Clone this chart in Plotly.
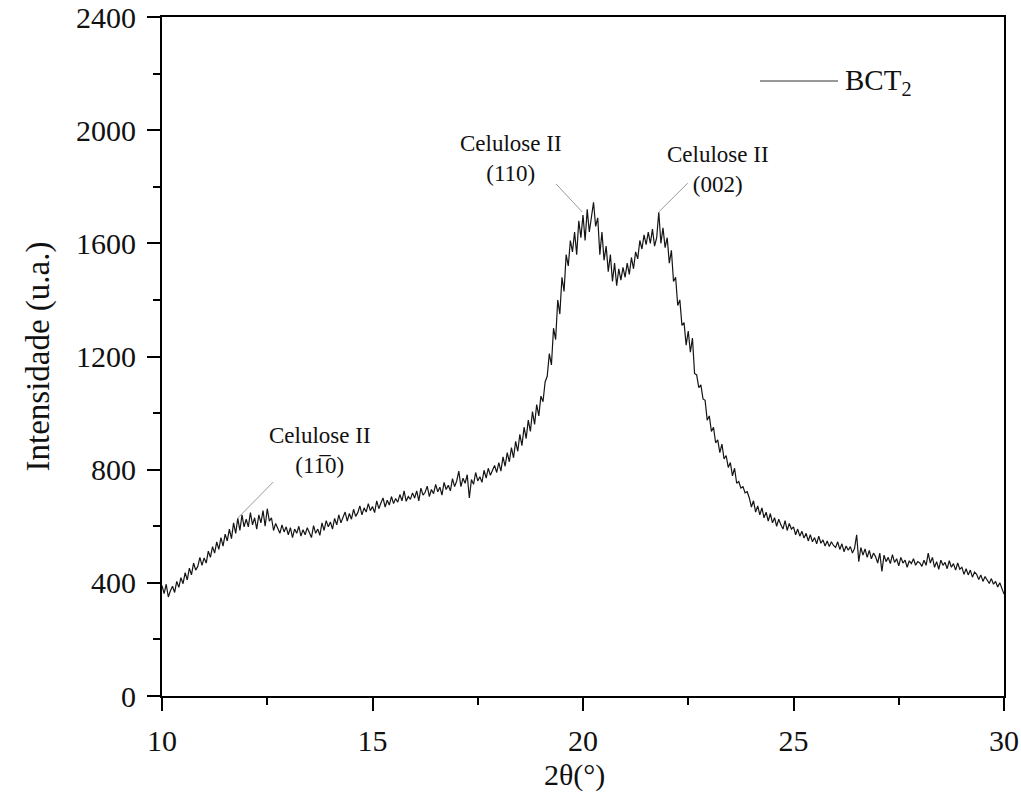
import numpy as np
import plotly.graph_objects as go

# 2theta scan grid (10 to 30 deg, step 0.05)
theta_start = 10.0
theta_end = 30.0
n_points = 401
two_theta = np.linspace(theta_start, theta_end, n_points)

# Intensity values (u.a.), one list per degree
i_10 = [390, 362, 395, 350, 372, 388, 366, 405, 384, 418, 397, 436, 410, 452, 428, 470, 445, 458, 490, 462]
i_11 = [488, 470, 512, 490, 528, 505, 545, 518, 560, 530, 572, 548, 590, 556, 612, 575, 628, 585, 640, 598]
i_12 = [625, 598, 648, 605, 630, 590, 640, 612, 655, 600, 662, 618, 630, 585, 610, 592, 575, 605, 580, 598]
i_13 = [570, 595, 560, 590, 575, 600, 565, 588, 570, 595, 578, 560, 602, 575, 590, 568, 612, 585, 620, 598]
i_14 = [615, 590, 628, 605, 640, 612, 632, 650, 618, 645, 625, 660, 635, 648, 672, 640, 665, 650, 680, 655]
i_15 = [670, 648, 690, 662, 682, 700, 668, 692, 675, 705, 680, 698, 685, 712, 690, 725, 688, 705, 695, 718]
i_16 = [700, 725, 690, 735, 710, 720, 742, 705, 730, 715, 748, 722, 738, 710, 755, 730, 745, 725, 768, 740]
i_17 = [760, 795, 740, 770, 752, 782, 700, 765, 748, 790, 760, 775, 755, 798, 770, 805, 780, 795, 815, 790]
i_18 = [825, 795, 845, 812, 860, 828, 878, 842, 900, 865, 925, 885, 950, 910, 975, 935, 1005, 960, 1030, 990]
i_19 = [1060, 1040, 1110, 1130, 1210, 1170, 1300, 1260, 1400, 1350, 1480, 1430, 1560, 1520, 1610, 1570, 1640, 1560, 1680, 1620]
i_20 = [1700, 1610, 1720, 1640, 1700, 1745, 1660, 1690, 1560, 1640, 1540, 1590, 1500, 1560, 1465, 1530, 1450, 1510, 1470, 1515]
i_21 = [1480, 1530, 1490, 1550, 1510, 1570, 1545, 1610, 1580, 1630, 1595, 1640, 1600, 1650, 1590, 1620, 1710, 1600, 1655, 1585]
i_22 = [1620, 1530, 1575, 1465, 1480, 1380, 1400, 1310, 1320, 1240, 1290, 1215, 1265, 1140, 1135, 1090, 1100, 1050, 1045, 975]
i_23 = [990, 935, 950, 895, 905, 860, 890, 838, 850, 808, 825, 778, 805, 752, 758, 735, 740, 718, 722, 700]
i_24 = [668, 690, 650, 672, 640, 665, 630, 650, 618, 645, 612, 630, 600, 625, 605, 590, 620, 585, 610, 590]
i_25 = [598, 570, 590, 565, 582, 558, 575, 548, 570, 545, 560, 538, 565, 540, 552, 530, 548, 528, 545, 532]
i_26 = [525, 545, 518, 538, 510, 530, 515, 528, 505, 522, 570, 475, 525, 498, 520, 490, 515, 485, 505, 492]
i_27 = [470, 505, 440, 498, 475, 490, 468, 500, 472, 485, 460, 490, 470, 480, 455, 478, 468, 485, 462, 475]
i_28 = [470, 458, 480, 462, 505, 470, 490, 455, 475, 448, 480, 462, 472, 450, 478, 455, 468, 445, 470, 448]
i_29 = [455, 430, 450, 428, 445, 420, 438, 430, 412, 428, 405, 422, 410, 398, 415, 395, 405, 385, 400, 378]
i_30 = [360]

intensity = (i_10 + i_11 + i_12 + i_13 + i_14 + i_15 + i_16 + i_17 + i_18 + i_19 +
             i_20 + i_21 + i_22 + i_23 + i_24 + i_25 + i_26 + i_27 + i_28 + i_29 + i_30)

series_name = "BCT<sub>2</sub>"
x_title = "2θ(°)"
y_title = "Intensidade (u.a.)"

# peak labels: text, tip (x, y), line tail (x, y), text centre (x, y)
peak_labels = ["Celulose II<br>(110)", "Celulose II<br>(002)", "Celulose II<br>(11\u03050)"]
peak_tip_x = [19.98, 21.80, 11.80]
peak_tip_y = [1711, 1711, 629]
peak_tail_x = [19.36, 22.49, 12.64]
peak_tail_y = [1810, 1813, 756]
peak_text_x = [18.29, 23.21, 13.75]
peak_text_y = [1900, 1860, 866]

FONT = "Liberation Serif, Times New Roman, serif"

# plot-area geometry in pixels
W, H = 1021, 802
ML, MR, MT, MB = 162, 17, 17, 106
pw = W - ML - MR
ph = H - MT - MB
def px2paper_x(px):
    return (px - ML) / pw
def py2paper_y(py):
    return (H - MB - py) / ph

fig = go.Figure()
fig.add_trace(go.Scatter(
    x=two_theta, y=intensity, mode="lines", name=series_name,
    line=dict(color="#151515", width=1.2), showlegend=False,
))

annotations = []
shapes = []
for t, tx, ty, lx, ly, cx, cy in zip(peak_labels, peak_tip_x, peak_tip_y,
                                      peak_tail_x, peak_tail_y, peak_text_x, peak_text_y):
    annotations.append(dict(x=cx, y=cy, xref="x", yref="y", text=t, showarrow=False,
                            font=dict(family=FONT, size=23, color="#111")))
    shapes.append(dict(type="line", xref="x", yref="y", x0=lx, y0=ly, x1=tx, y1=ty,
                       line=dict(color="#999", width=1)))

# manual legend (line sample + label)
annotations.append(dict(x=px2paper_x(843), y=py2paper_y(82), xref="paper", yref="paper",
                        text=series_name, showarrow=False, xanchor="left", yanchor="middle",
                        font=dict(family=FONT, size=29, color="#111")))
shapes.append(dict(type="line", xref="paper", yref="paper",
                   x0=px2paper_x(760), x1=px2paper_x(838),
                   y0=py2paper_y(81), y1=py2paper_y(81),
                   line=dict(color="#333", width=1)))

# x-axis title placed as text
annotations.append(dict(x=px2paper_x(574), y=py2paper_y(775), xref="paper", yref="paper",
                        text=x_title, showarrow=False, xanchor="center", yanchor="middle",
                        font=dict(family=FONT, size=30, color="#111")))

fig.update_layout(
    width=W, height=H,
    margin=dict(l=ML, r=MR, t=MT, b=MB),
    paper_bgcolor="white", plot_bgcolor="white",
    font=dict(family=FONT, size=30, color="#111"),
    annotations=annotations, shapes=shapes,
)

axis_common = dict(
    showgrid=False, zeroline=False, showline=True, linecolor="black", linewidth=2,
    mirror=True, ticks="outside", ticklen=13, tickwidth=2, tickcolor="black",
    tickfont=dict(family=FONT, size=30, color="#111"), automargin=False,
)
fig.update_xaxes(range=[10, 30], dtick=5, tick0=10, ticklabelstandoff=4,
                 minor=dict(dtick=2.5, ticks="outside", ticklen=7, tickwidth=2, tickcolor="black"),
                 **axis_common)
fig.update_yaxes(range=[0, 2400], dtick=400, tick0=0, ticklabelstandoff=5,
                 minor=dict(dtick=200, ticks="outside", ticklen=7, tickwidth=2, tickcolor="black"),
                 title=dict(text=y_title, font=dict(family=FONT, size=33), standoff=16),
                 **axis_common)

fig.write_html("out.html")
